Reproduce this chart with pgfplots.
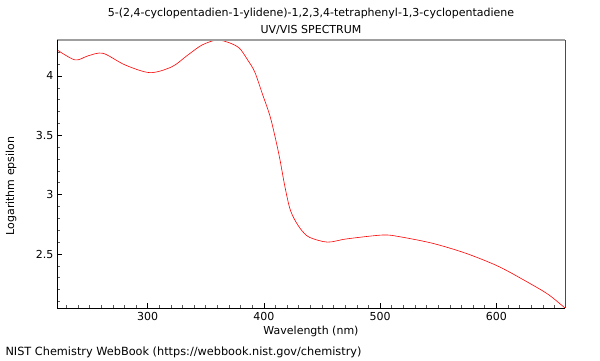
\documentclass[border=0pt]{standalone}
\usepackage{pgfplots}
\pgfplotsset{compat=1.18}
\usepackage{fontspec}
\setmainfont{DejaVu Sans}
\begin{document}
\begin{tikzpicture}[x=1pt,y=1pt]
\path[use as bounding box] (0,0) rectangle (600,360);
\begin{axis}[
  at={(57pt,52pt)}, anchor=south west,
  scale only axis, width=508pt, height=268pt,
  xmin=222, xmax=659, ymin=2.045, ymax=4.303,
  axis line style={draw=none},
  xtick={300,400,500,600}, ytick={2.5,3,3.5,4},
  yticklabels={2.5,3,3.5,4},
  minor xtick={230,240,...,650}, minor ytick={2.1,2.2,...,4.3},
  xtick pos=bottom, ytick pos=left,
  tick align=inside,
  major tick length=5pt, minor tick length=3pt,
  every major tick/.style={black, line width=0.6pt},
  every minor tick/.style={gray!70!black, line width=0.6pt},
  /pgf/number format/assume math mode=true,
  tick label style={font=\fontsize{11}{13}\selectfont},
  xticklabel style={yshift=-1pt},
  after end axis/.code={
    \draw[gray!75, line width=2pt] (rel axis cs:0,1) -- (rel axis cs:1,1);
    \draw[gray!60!black, line width=1pt] (rel axis cs:1,0) -- (rel axis cs:1,1);
    \draw[black, line width=0.8pt] (rel axis cs:0,1) -- (rel axis cs:0,0) -- (rel axis cs:1,0);
  },
]
\addplot[red, line width=0.6pt, smooth, tension=0.5] coordinates {
(222.2,4.219) (237.6,4.135) (248.8,4.17) (261.6,4.191) (280.5,4.093) (302,4.028)
(320.9,4.078) (334.6,4.177) (346.6,4.26) (359.5,4.303) (370.6,4.278) (379,4.233)
(386,4.135) (392.1,4.034) (399,3.84) (405,3.67) (409.3,3.50) (413.5,3.31)
(417.8,3.08) (422.1,2.89) (426.4,2.79) (432.4,2.70) (439.3,2.64) (454.7,2.60)
(471,2.627) (502,2.66) (516.5,2.646) (545.1,2.59) (573.7,2.506) (602.3,2.393)
(630.9,2.24) (645.2,2.155) (659,2.045)
};
\end{axis}
\node[font=\fontsize{11}{13}\selectfont] at (311,347) {5-(2,4-cyclopentadien-1-ylidene)-1,2,3,4-tetraphenyl-1,3-cyclopentadiene};
\node[font=\fontsize{11}{13}\selectfont] at (311,330) {UV/VIS SPECTRUM};
\node[font=\fontsize{11}{13}\selectfont] at (311,29) {Wavelength (nm)};
\node[font=\fontsize{11}{13}\selectfont, rotate=90] at (11,174) {Logarithm epsilon};
\node[font=\fontsize{11.3}{13}\selectfont, anchor=west] at (2,8) {NIST Chemistry WebBook (https://webbook.nist.gov/chemistry)};
\end{tikzpicture}
\end{document}
